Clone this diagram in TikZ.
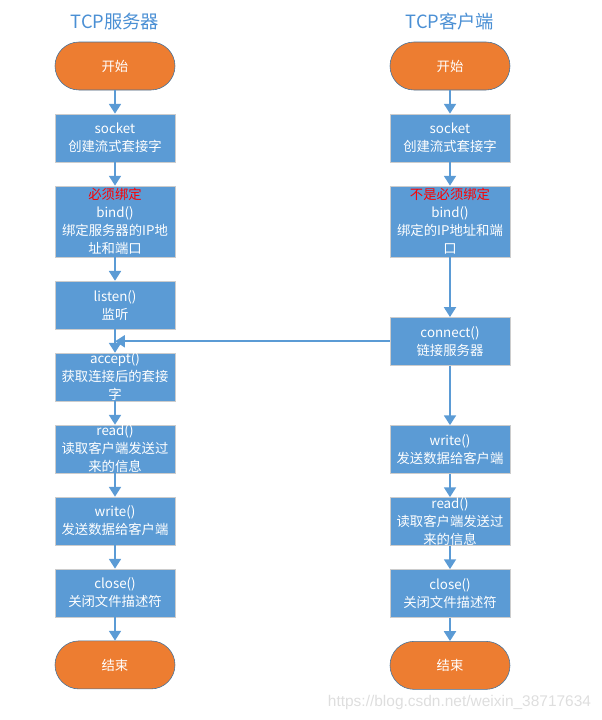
\documentclass[tikz,border=0pt]{standalone}
\usepackage{fontspec}
\setmainfont{Noto Sans CJK SC}
\newfontfamily\urlfont{Liberation Sans}
\usetikzlibrary{positioning,arrows.meta}
\definecolor{boxblue}{HTML}{5B9BD5}
\definecolor{termorange}{HTML}{ED7D31}
\definecolor{termedge}{HTML}{41719C}
\definecolor{titleblue}{HTML}{4A8FD4}

\begin{document}
\begin{tikzpicture}[node distance=0.585cm,
  every node/.style={align=center, font=\fontsize{9.5}{12.8}\selectfont},
  box/.style={draw=black!20, fill=boxblue, text=white, minimum width=3cm,
    minimum height=1.2cm, inner sep=0pt},
  term/.style={draw=termedge, fill=termorange, text=white, rounded corners=0.6cm,
    minimum width=3cm, minimum height=1.2cm},
  title/.style={text=titleblue, font=\fontsize{13}{15}\selectfont},
  flow/.style={draw=boxblue, line width=1.4pt, -{Triangle[length=7pt,width=8.5pt]}}
]
\useasboundingbox (0,0) rectangle (15.05,-18);

% server side
\node[title] (stitle) at (2.875,-0.55) {TCP服务器};
\node[term] (sstart) at (2.875,-1.65) {开始};
\node[box, below=of sstart] (ssocket) {socket\\创建流式套接字};
\node[box, minimum height=1.78cm, below=of ssocket] (sbind)
  {\textcolor{red}{必须绑定}\\bind()\\绑定服务器的IP地\\址和端口};
\node[box, below=of sbind] (slisten) {listen()\\监听};
\node[box, below=of slisten] (saccept) {accept()\\获取连接后的套接\\字};
\node[box, below=of saccept] (sread) {read()\\读取客户端发送过\\来的信息};
\node[box, below=of sread] (swrite) {write()\\发送数据给客户端};
\node[box, below=of swrite] (sclose) {close()\\关闭文件描述符};
\node[term, below=of sclose] (send) {结束};

% client side
\node[title] (ctitle) at (11.25,-0.55) {TCP客户端};
\node[term] (cstart) at (11.25,-1.65) {开始};
\node[box, below=of cstart] (csocket) {socket\\创建流式套接字};
\node[box, minimum height=1.78cm, below=of csocket] (cbind)
  {\textcolor{red}{不是必须绑定}\\bind()\\绑定的IP地址和端\\口};
\node[box, below=1.49cm of cbind] (cconnect) {connect()\\链接服务器};
\node[box, below=1.49cm of cconnect] (cwrite) {write()\\发送数据给客户端};
\node[box, below=of cwrite] (cread) {read()\\读取客户端发送过\\来的信息};
\node[box, below=of cread] (cclose) {close()\\关闭文件描述符};
\node[term, below=of cclose] (cend) {结束};

\foreach \a/\b in {sstart/ssocket, ssocket/sbind, sbind/slisten, slisten/saccept,
    saccept/sread, sread/swrite, swrite/sclose, sclose/send,
    cstart/csocket, csocket/cbind, cbind/cconnect, cconnect/cwrite,
    cwrite/cread, cread/cclose, cclose/cend}
  \draw[flow] (\a) -- (\b);

\coordinate (meet) at (slisten.south |- cconnect.west);
\draw[flow] (cconnect.west) -- (meet);

\node[text=black!13, font=\urlfont\fontsize{11}{12}\selectfont, anchor=east] (mark)
  at (14.9,-17.55) {https://blog.csdn.net/weixin\_38717634};
\end{tikzpicture}
\end{document}
